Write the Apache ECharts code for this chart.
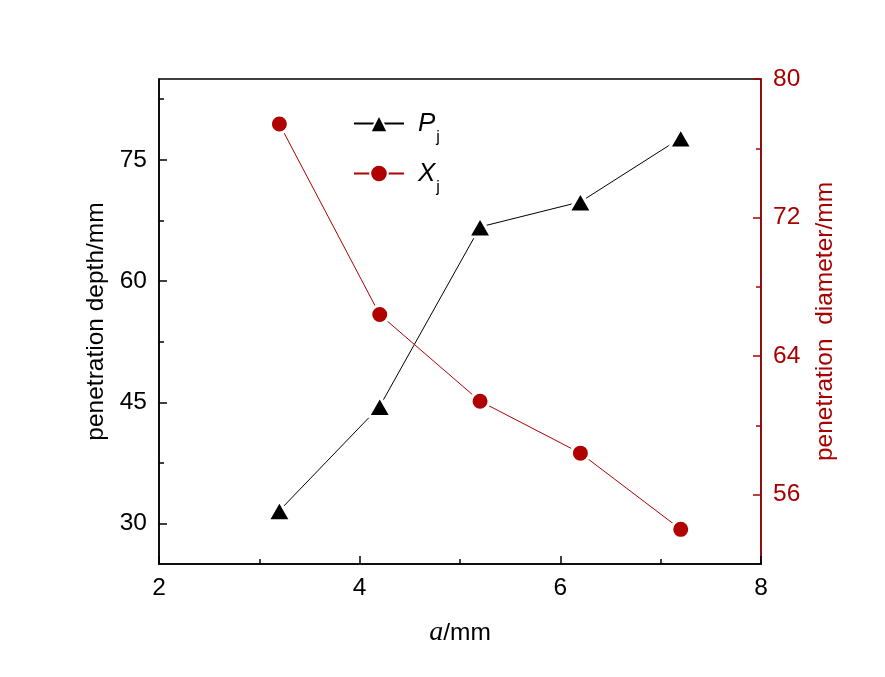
<!DOCTYPE html>
<html>
<head>
<meta charset="utf-8">
<script src="https://cdn.jsdelivr.net/npm/echarts@6/dist/echarts.min.js"></script>
<style>
html, body { margin: 0; padding: 0; background: #fff; }
#main { width: 885px; height: 677px; }
</style>
</head>
<body>
<div id="main"></div>
<script>
// data
var aValues = [3.2, 4.2, 5.2, 6.2, 7.2];
var depthValues = [31.6, 44.5, 66.7, 69.8, 77.7];
var diameterValues = [77.4, 66.4, 61.4, 58.4, 54.0];
var xTicks = [2, 4, 6, 8];
var depthTicks = [30, 45, 60, 75];
var depthMinorTicks = [37.5, 52.5, 67.5, 82.5];
var diameterTicks = [56, 64, 72, 80];
var diameterMinorTicks = [60, 68, 76];

var font = 'Liberation Sans, Arial, sans-serif';
var red = '#a80000';

var chartDom = document.getElementById('main');
var myChart = echarts.init(chartDom);

let depthData = [];
let diameterData = [];
aValues.forEach(function (a, i) {
    depthData.push([a, depthValues[i]]);
    diameterData.push([a, diameterValues[i]]);
});

function tickAxis(position, min, max, color, ticks, len, withLabel) {
    return {
        type: 'value',
        position: position,
        min: min,
        max: max,
        axisLine: { show: withLabel, lineStyle: { color: color, width: 1.5 } },
        axisTick: { show: true, inside: true, length: len, customValues: ticks, lineStyle: { color: color, width: 1.5 } },
        axisLabel: {
            show: withLabel,
            customValues: ticks,
            margin: 12,
            fontSize: 24.5,
            color: color,
            fontFamily: font
        },
        splitLine: { show: false }
    };
}

let leftAxis = tickAxis('left', 25, 85, '#000', depthTicks, 8, true);
leftAxis.name = 'penetration depth/mm';
leftAxis.nameLocation = 'middle';
leftAxis.nameGap = 44;
leftAxis.nameTextStyle = { fontSize: 24.5, color: '#000', fontFamily: font };

let rightAxis = tickAxis('right', 52, 80, red, diameterTicks, 8, true);
rightAxis.name = 'penetration  diameter/mm';
rightAxis.nameLocation = 'middle';
rightAxis.nameGap = 52;
rightAxis.nameTextStyle = { fontSize: 24.5, color: red, fontFamily: font };

let option = {
    animation: false,
    backgroundColor: '#fff',
    grid: {
        left: 159,
        right: 124,
        top: 79,
        bottom: 113,
        show: true,
        borderColor: '#000',
        borderWidth: 1.5
    },
    legend: {
        orient: 'vertical',
        left: 353,
        top: 101,
        padding: 0,
        itemWidth: 50,
        itemHeight: 22,
        itemGap: 5,
        data: ['Pj', 'Xj'],
        formatter: function (name) {
            return '{i|' + name.charAt(0) + '}{s|j}';
        },
        textStyle: {
            color: '#000',
            fontFamily: font,
            rich: {
                i: { fontStyle: 'italic', fontSize: 26, lineHeight: 26, fontFamily: font, padding: [0, 0, 0, 9] },
                s: { fontSize: 16, lineHeight: 16, fontFamily: font, padding: [29, 0, 0, 1] }
            }
        }
    },
    xAxis: {
        type: 'value',
        min: 2,
        max: 8,
        interval: 2,
        position: 'bottom',
        axisLine: { lineStyle: { color: '#000', width: 1.5 } },
        axisTick: { inside: true, length: 8, lineStyle: { color: '#000', width: 1.5 } },
        minorTick: { show: true, splitNumber: 2, length: 5, lineStyle: { color: '#000', width: 1.5 } },
        axisLabel: {
            margin: 12,
            fontSize: 24.5,
            color: '#000',
            fontFamily: font,
            customValues: xTicks
        },
        splitLine: { show: false },
        minorSplitLine: { show: false },
        name: '{i|a}/mm',
        nameLocation: 'middle',
        nameGap: 55,
        nameTextStyle: {
            fontSize: 24.5,
            color: '#000',
            fontFamily: font,
            rich: {
                i: { fontStyle: 'italic', fontSize: 28, fontFamily: 'Liberation Serif, serif', color: '#000' }
            }
        }
    },
    yAxis: [
        leftAxis,
        rightAxis,
        tickAxis('left', 25, 85, '#000', depthMinorTicks, 5, false),
        tickAxis('right', 52, 80, red, diameterMinorTicks, 5, false)
    ],
    series: [{
        name: 'Pj',
        type: 'line',
        yAxisIndex: 0,
        data: depthData,
        symbol: 'triangle',
        symbolSize: [23, 20],
        itemStyle: { color: '#000', borderColor: '#fff', borderWidth: 3 },
        lineStyle: { color: '#000', width: 1 },
        z: 3
    }, {
        name: 'Xj',
        type: 'line',
        yAxisIndex: 1,
        data: diameterData,
        symbol: 'circle',
        symbolSize: 18,
        itemStyle: { color: '#b00000', borderColor: '#fff', borderWidth: 3 },
        lineStyle: { color: '#b00000', width: 1 },
        z: 4
    }]
};

option && myChart.setOption(option);
</script>
</body>
</html>
